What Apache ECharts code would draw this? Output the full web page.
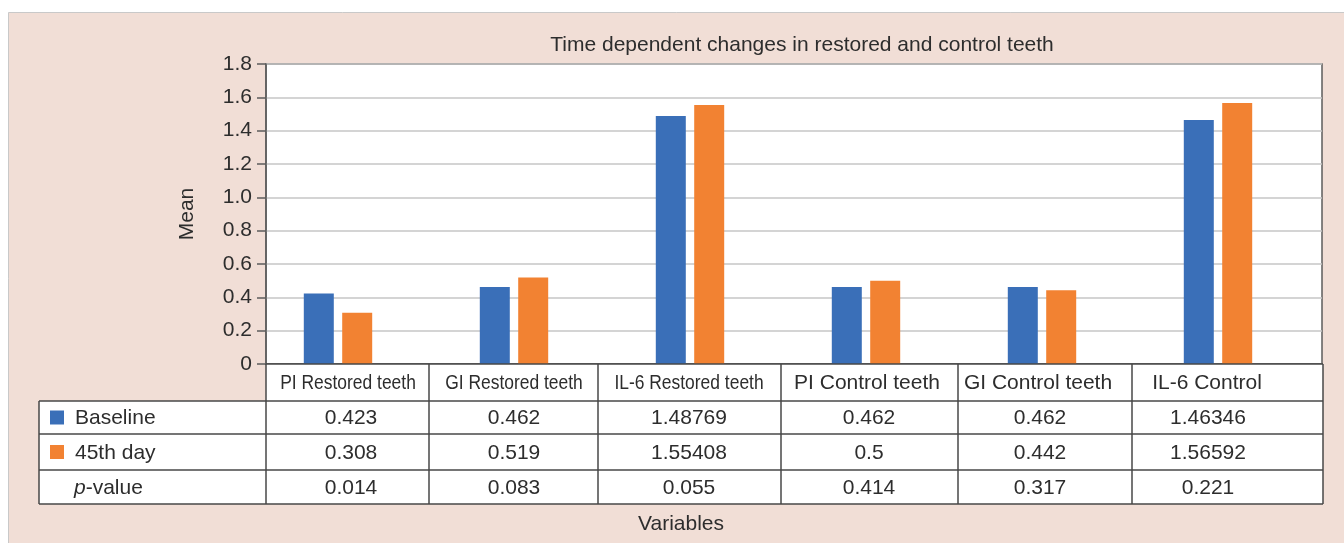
<!DOCTYPE html>
<html><head><meta charset="utf-8">
<script src="https://cdn.jsdelivr.net/npm/echarts@6/dist/echarts.min.js"></script>
<style>html,body{margin:0;padding:0;background:#fff}#c{width:1344px;height:543px}</style>
</head><body><div id="c"></div>
<script>
// ---- data ----
const chartTitle = 'Time dependent changes in restored and control teeth';
const categories = ['PI Restored teeth','GI Restored teeth','IL-6 Restored teeth','PI Control teeth','GI Control teeth','IL-6 Control'];
const seriesNames = ['Baseline','45th day'];
const baseline = [0.423, 0.462, 1.48769, 0.462, 0.462, 1.46346];
const day45 = [0.308, 0.519, 1.55408, 0.5, 0.442, 1.56592];
const pValues = ['0.014','0.083','0.055','0.414','0.317','0.221'];
const yAxisName = 'Mean';
const xAxisName = 'Variables';

// ---- layout ----
const FONT = "'Liberation Sans', Arial, sans-serif";
const TXT = '#2d2d2d';
const LINE = '#474747';
const colors = ['#3a6fb8', '#f28232'];
const colEdges = [266, 429, 598, 781, 958, 1132, 1323];
const catCenters = [348, 514, 689, 867, 1038, 1207];
const valCenters = [351, 514, 689, 869, 1040, 1208];
const condensed = [true, true, true, false, false, false];
const rowY = [364, 401, 434, 470, 504];
const tableLeft = 39;

const g = [];
// pink panel
g.push({type:'rect', z:-100, silent:true, shape:{x:8.5, y:12.5, width:1345, height:540},
  style:{fill:'#f1ded6', stroke:'#c9c9c9', lineWidth:1}});
// title
g.push({type:'text', z:100, x:802, y:45, style:{text:chartTitle, font:'21px '+FONT, fill:TXT, align:'center', verticalAlign:'middle'}});
// y name
g.push({type:'text', z:100, x:187, y:214, rotation:Math.PI/2, style:{text:yAxisName, font:'21px '+FONT, fill:TXT, align:'center', verticalAlign:'middle'}});
// x name
g.push({type:'text', z:100, x:681, y:524, style:{text:xAxisName, font:'21px '+FONT, fill:TXT, align:'center', verticalAlign:'middle'}});
// table backgrounds
g.push({type:'rect', z:90, shape:{x:colEdges[0], y:rowY[0], width:colEdges[6]-colEdges[0], height:rowY[1]-rowY[0]}, style:{fill:'#fff'}});
g.push({type:'rect', z:90, shape:{x:tableLeft, y:rowY[1], width:colEdges[6]-tableLeft, height:rowY[4]-rowY[1]}, style:{fill:'#fff'}});
// horizontal lines
g.push({type:'line', z:95, shape:{x1:colEdges[0], y1:rowY[0], x2:colEdges[6], y2:rowY[0]}, style:{stroke:LINE, lineWidth:1.5}});
for (let i = 1; i < rowY.length; i++) {
  g.push({type:'line', z:95, shape:{x1:tableLeft, y1:rowY[i], x2:colEdges[6], y2:rowY[i]}, style:{stroke:LINE, lineWidth:1.5}});
}
// vertical lines
g.push({type:'line', z:95, shape:{x1:tableLeft, y1:rowY[1], x2:tableLeft, y2:rowY[4]}, style:{stroke:LINE, lineWidth:1.5}});
colEdges.forEach(x => {
  g.push({type:'line', z:95, shape:{x1:x, y1:rowY[0], x2:x, y2:rowY[4]}, style:{stroke:LINE, lineWidth:1.5}});
});
// category labels
categories.forEach((c, i) => {
  g.push({type:'text', z:100, x:catCenters[i], y:(rowY[0]+rowY[1])/2+1, scaleX: condensed[i] ? 0.83 : 1,
    style:{text:c, font:'21px '+FONT, fill:TXT, align:'center', verticalAlign:'middle'}});
});
// row labels + legend keys
const rowLabels = [seriesNames[0], seriesNames[1], null];
[0,1,2].forEach(r => {
  const cy = (rowY[r+1] + rowY[r+2]) / 2;
  if (r < 2) {
    g.push({type:'rect', z:100, shape:{x:50, y:cy-7, width:14, height:14}, style:{fill:colors[r]}});
    g.push({type:'text', z:100, x:75, y:cy+1, style:{text:rowLabels[r], font:'21px '+FONT, fill:TXT, align:'left', verticalAlign:'middle'}});
  } else {
    g.push({type:'text', z:100, x:74, y:cy+1, style:{
      text:'{i|p}{n|-value}', align:'left', verticalAlign:'middle',
      rich:{i:{font:'italic 21px '+FONT, fill:TXT}, n:{font:'21px '+FONT, fill:TXT}}}});
  }
});
// values
const rows = [baseline.map(String), day45.map(String), pValues];
rows.forEach((vals, r) => {
  const cy = (rowY[r+1] + rowY[r+2]) / 2 + 1;
  vals.forEach((v, i) => {
    g.push({type:'text', z:100, x:valCenters[i], y:cy, style:{text:v, font:'21px '+FONT, fill:TXT, align:'center', verticalAlign:'middle'}});
  });
});

const option = {
  animation: false,
  backgroundColor: '#fff',
  grid: [
    {left:266, top:64, width:1056, height:300, show:true, backgroundColor:'#fff', borderColor:'#5c5c5c', borderWidth:1.5, containLabel:false, outerBoundsMode:'none'},
    {left:250, top:64, width:1056, height:300, containLabel:false, outerBoundsMode:'none'}
  ],
  xAxis: [
    {gridIndex:0, type:'category', data:categories, axisLabel:{show:false}, axisTick:{show:false},
     axisLine:{show:true, lineStyle:{color:'#5c5c5c', width:1.5}}},
    {gridIndex:1, type:'category', data:categories, show:false}
  ],
  yAxis: [
    {gridIndex:0, type:'value', min:0, max:1.8, interval:0.2,
     axisLine:{show:true, lineStyle:{color:'#5c5c5c', width:1.5}},
     axisTick:{show:true, length:9, lineStyle:{color:'#5c5c5c', width:1.5}},
     axisLabel:{fontSize:21, fontFamily:FONT, color:TXT, margin:14, formatter: v => v === 0 ? '0' : v.toFixed(1)},
     splitLine:{show:true, lineStyle:{color:'#c6c6c6', width:1.5}}},
    {gridIndex:1, type:'value', min:0, max:1.8, show:false, splitLine:{show:false}}
  ],
  series: [
    {name:seriesNames[0], type:'bar', xAxisIndex:1, yAxisIndex:1, data:baseline, barWidth:30, barGap:'28%',
     itemStyle:{color:colors[0]}},
    {name:seriesNames[1], type:'bar', xAxisIndex:1, yAxisIndex:1, data:day45, barWidth:30, barGap:'28%',
     itemStyle:{color:colors[1]}}
  ],
  graphic: g
};
const chart = echarts.init(document.getElementById('c'), null, {renderer:'canvas'});
chart.setOption(option);
</script>
</body></html>
